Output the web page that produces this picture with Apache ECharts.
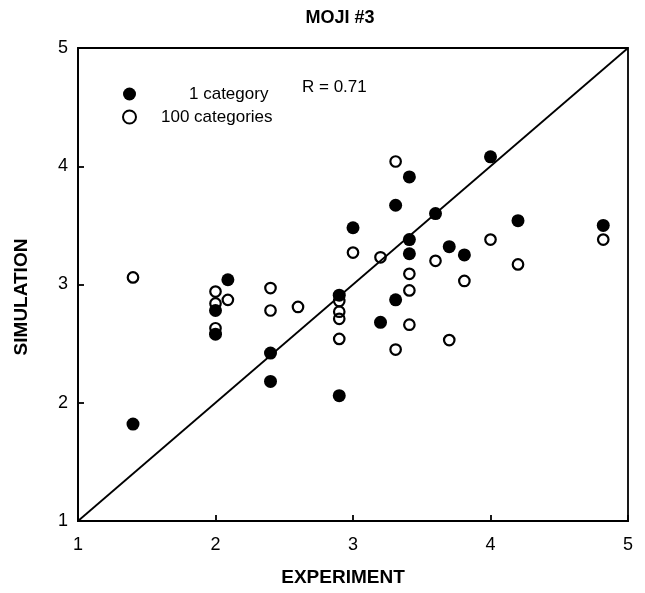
<!DOCTYPE html>
<html>
<head>
<meta charset="utf-8">
<script src="https://cdn.jsdelivr.net/npm/echarts@6/dist/echarts.min.js"></script>
<style>
  html, body { margin: 0; padding: 0; background: #fff; }
  #chart { width: 645px; height: 593px; }
</style>
</head>
<body>
<div id="chart"></div>
<script>
// Axis ticks (both axes share the same 1..5 scale)
const tickValues = [1, 2, 3, 4, 5];

// Series names
const nameOne = '1 category';
const nameHundred = '100 categories';

// [experiment, simulation] pairs, 1 category (filled)
const oneCategory = [
  [1.40, 1.82], [2.09, 3.04], [2.00, 2.78], [2.00, 2.58], [2.40, 2.42],
  [2.40, 2.18], [2.90, 2.91], [2.90, 2.06], [3.00, 3.48], [3.31, 3.67],
  [3.41, 3.91], [4.00, 4.08], [3.60, 3.60], [4.20, 3.54], [4.82, 3.50],
  [3.41, 3.38], [3.41, 3.26], [3.70, 3.32], [3.81, 3.25], [3.31, 2.87],
  [3.20, 2.68]
];

// [experiment, simulation] pairs, 100 categories (open)
const hundredCategories = [
  [1.40, 3.06], [2.00, 2.94], [2.00, 2.84], [2.09, 2.87], [2.00, 2.63],
  [2.40, 2.97], [2.40, 2.78], [2.60, 2.81], [2.90, 2.86], [2.90, 2.77],
  [2.90, 2.71], [2.90, 2.54], [3.00, 3.27], [3.31, 4.04], [4.82, 3.38],
  [4.00, 3.38], [3.20, 3.23], [3.60, 3.20], [4.20, 3.17], [3.41, 3.09],
  [3.41, 2.95], [3.81, 3.03], [3.41, 2.66], [3.31, 2.45], [3.70, 2.53]
];

// Identity line y = x
const identityLine = [[1, 1], [5, 5]];

const correlationText = 'R = 0.71';

const font = 'Liberation Sans, Arial, Helvetica, sans-serif';
const chart = echarts.init(document.getElementById('chart'));

const axisCommon = {
  type: 'value',
  min: tickValues[0],
  max: tickValues[tickValues.length - 1],
  interval: 1,
  splitLine: { show: false },
  axisLine: { show: true, lineStyle: { color: '#000', width: 1.8 } },
  axisTick: { show: true, inside: true, length: 6, lineStyle: { color: '#000', width: 1.8 } },
  axisLabel: { color: '#000', fontSize: 18, fontFamily: font }
};

chart.setOption({
  animation: false,
  backgroundColor: '#fff',
  grid: {
    left: 78, right: 17, top: 48, bottom: 72,
    show: true, borderColor: '#000', borderWidth: 1.8, backgroundColor: 'transparent'
  },
  xAxis: Object.assign({}, axisCommon, {
    axisLabel: Object.assign({}, axisCommon.axisLabel, { margin: 15 })
  }),
  yAxis: Object.assign({}, axisCommon, {
    axisLabel: Object.assign({}, axisCommon.axisLabel, { margin: 10 })
  }),
  legend: {
    orient: 'vertical',
    left: 117, top: 80,
    itemWidth: 13, itemHeight: 13, itemGap: 5,
    data: [nameOne, nameHundred],
    formatter: function (name) {
      return name === nameOne ? '{p1|}' + name : '{p2|}' + name;
    },
    textStyle: {
      color: '#000', fontSize: 17, fontFamily: font, lineHeight: 18,
      rich: {
        p1: { width: 48 },
        p2: { width: 20 }
      }
    }
  },
  graphic: [
    { type: 'text', left: 302, top: 79, style: { text: correlationText, fill: '#000', font: '17px ' + font } },
    { type: 'text', x: 340, y: 18, style: { text: 'MOJI #3', fill: '#000', font: 'bold 18px ' + font, align: 'center', verticalAlign: 'middle' } },
    { type: 'text', x: 343, y: 578, style: { text: 'EXPERIMENT', fill: '#000', font: 'bold 19px ' + font, align: 'center', verticalAlign: 'middle' } },
    { type: 'text', x: 22, y: 297, rotation: Math.PI / 2, style: { text: 'SIMULATION', fill: '#000', font: 'bold 19px ' + font, align: 'center', verticalAlign: 'middle' } }
  ],
  series: [
    {
      type: 'line',
      data: identityLine,
      symbol: 'none',
      lineStyle: { color: '#000', width: 1.8 },
      silent: true,
      z: 1
    },
    {
      name: nameOne,
      type: 'scatter',
      data: oneCategory,
      symbol: 'circle',
      symbolSize: 13,
      itemStyle: { color: '#000', opacity: 1 },
      z: 3
    },
    {
      name: nameHundred,
      type: 'scatter',
      data: hundredCategories,
      symbol: 'circle',
      symbolSize: 10.5,
      itemStyle: { color: 'rgba(255,255,255,0)', borderColor: '#000', borderWidth: 2.2, opacity: 1 },
      z: 2
    }
  ]
});
</script>
</body>
</html>
